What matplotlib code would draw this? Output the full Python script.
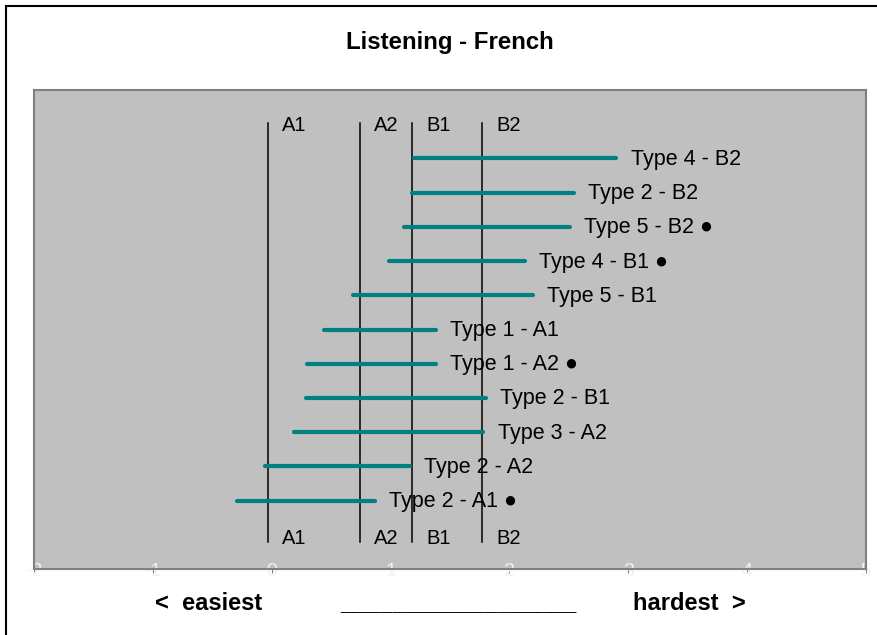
import matplotlib.pyplot as plt
from matplotlib.patches import Rectangle

plt.rcParams['font.family'] = ['Liberation Sans', 'DejaVu Sans']
plt.rcParams['axes.unicode_minus'] = False

# Bars, bottom to top
labels = ['Type 2 - A1 ●', 'Type 2 - A2', 'Type 3 - A2', 'Type 2 - B1', 'Type 1 - A2 ●',
          'Type 1 - A1', 'Type 5 - B1', 'Type 4 - B1 ●', 'Type 5 - B2 ●', 'Type 2 - B2', 'Type 4 - B2']
starts = [-0.29, -0.06, 0.19, 0.29, 0.30, 0.44, 0.68, 0.99, 1.11, 1.18, 1.20]
ends = [0.87, 1.16, 1.78, 1.80, 1.38, 1.38, 2.20, 2.13, 2.51, 2.54, 2.90]

# CEFR level boundaries
levels = ['A1', 'A2', 'B1', 'B2']
level_x = [-0.03, 0.74, 1.18, 1.77]

fig = plt.figure(figsize=(8.78, 6.35), dpi=100)
ax = fig.add_axes([34 / 878, 1 - 569 / 635, 832 / 878, 479 / 635])
ax.set_facecolor('#c0c0c0')

for x, lev in zip(level_x, levels):
    ax.plot([x, x], [-0.2, 12.05], color='black', lw=1.1, zorder=2)
    ax.text(x + 0.12, 11.95, lev, fontsize=14.5, va='center', ha='left')
    ax.text(x + 0.12, -0.1, lev, fontsize=14.5, va='center', ha='left')

for i, (s, e, lab) in enumerate(zip(starts, ends, labels)):
    y = i + 1
    ax.plot([s, e], [y, y], color='#008080', lw=3, solid_capstyle='round', zorder=3)
    ax.text(e + 0.12, y - 0.03, lab, fontsize=15.5, va='center', ha='left', zorder=4)

ax.set_xlim(-2, 5)
ax.set_ylim(-1, 13)
ax.set_xticks(range(-2, 6))
ax.tick_params(axis='x', colors='#f2f2f2', labelsize=14, length=3, pad=-7)
ax.tick_params(axis='x', color='#808080')
ax.set_yticks([])
for sp in ax.spines.values():
    sp.set_color('#808080')
    sp.set_linewidth(1.5)

fig.text(450 / 878, 1 - 42 / 635, 'Listening - French', fontsize=17.3, fontweight='bold',
         ha='center', va='center')
fig.text(155 / 878, 1 - 604 / 635, '<  easiest', fontsize=17, fontweight='bold', va='center', ha='left')
fig.text(458 / 878, 1 - 604 / 635, '__________________', fontsize=17, fontweight='bold',
         va='center', ha='center')
fig.text(746 / 878, 1 - 604 / 635, 'hardest  >', fontsize=17, fontweight='bold', va='center', ha='right')

fig.add_artist(Rectangle((6 / 878, -0.1), 1.2, 1.1 - 6 / 635, transform=fig.transFigure,
                         fill=False, edgecolor='black', lw=1.5))

fig.savefig('out.png', dpi=100)
